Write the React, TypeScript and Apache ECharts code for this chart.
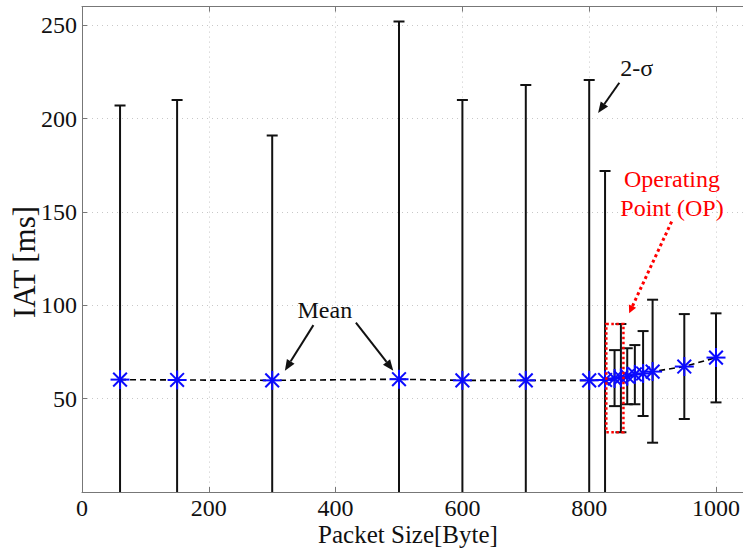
import React, { useEffect, useRef } from "react";
import * as echarts from "echarts";

// Data
const packetSizes = [60, 150, 300, 500, 600, 700, 800, 825, 840, 850, 860, 872, 885, 900, 950, 1000];
const meanIAT = [60.2, 60, 59.8, 60.4, 59.8, 59.8, 59.8, 60, 60.8, 61.2, 62, 63, 63.5, 64.5, 67.2, 72];
const upperIAT = [207, 210, 191, 252, 210, 218, 220.7, 172, 76, 90, 77, 78.7, 86.2, 103, 95.3, 95.7];
const lowerIAT = [-87, -90, -71, -131, -90, -98, -101, -52, 46, 32, 47, 47, 40.7, 26.4, 39.1, 48];

const xTicks = [0, 200, 400, 600, 800, 1000];
const yTicks = [50, 100, 150, 200, 250];

const xAxisTitle = "Packet Size[Byte]";
const yAxisTitle = "IAT [ms]";

// Annotation anchors in data coordinates
const meanLabel = { text: "Mean", at: [383, 97.5] };
const meanArrows = [
  { from: [365, 89.4], to: [320, 65] },
  { from: [432, 90.7], to: [491, 65] },
];
const sigmaLabel = { text: "2-σ", at: [875, 227] };
const sigmaArrow = { from: [847.5, 219.2], to: [814, 203] };
const opLabelLines = [
  { text: "Operating", at: [930.6, 167.5] },
  { text: "Point (OP)", at: [930.6, 152] },
];
const opArrow = { from: [930, 144.8], to: [863, 95.7] };
const opBox = { x0: 827, x1: 854, y0: 32, y1: 90 };

const FONT = "'Liberation Serif', 'Times New Roman', serif";

export default function App() {
  const ref = useRef<HTMLDivElement>(null);

  useEffect(() => {
    if (!ref.current) return;
    const chart = echarts.init(ref.current, null, { renderer: "svg" });

    const barData = packetSizes.map((x, i) => [x, lowerIAT[i], upperIAT[i]]);
    const meanData = packetSizes.map((x, i) => [x, meanIAT[i]]);

    chart.setOption({
      animation: false,
      backgroundColor: "#ffffff",
      grid: {
        left: 82,
        right: -4.7,
        top: 6.6,
        bottom: 56,
        show: false,
        containLabel: false,
        outerBoundsMode: "none",
      },
      xAxis: [
        {
          type: "value",
          min: 0,
          max: 1050,
          interval: 200,
          position: "bottom",
          axisLine: { show: true, lineStyle: { color: "#777", width: 1 } },
          axisTick: { show: true, inside: true, length: 5, lineStyle: { color: "#777" } },
          axisLabel: {
            fontFamily: FONT,
            fontSize: 24,
            lineHeight: 24,
            color: "#111",
            margin: 4,
            formatter: (v: number) => (xTicks.includes(v) ? String(v) : ""),
          },
          splitLine: { show: true, lineStyle: { type: [1, 4], color: "#c8c8c8", width: 1 } },
        },
        {
          type: "value",
          min: 0,
          max: 1050,
          interval: 200,
          position: "top",
          axisLine: { show: true, lineStyle: { color: "#777", width: 1 } },
          axisTick: { show: true, inside: true, length: 5, lineStyle: { color: "#777" } },
          axisLabel: { show: false },
          splitLine: { show: false },
        },
      ],
      yAxis: [
        {
          type: "value",
          min: 0,
          max: 260,
          interval: 50,
          axisLine: { show: true, lineStyle: { color: "#777", width: 1 } },
          axisTick: { show: true, inside: true, length: 5, lineStyle: { color: "#777" } },
          axisLabel: {
            fontFamily: FONT,
            fontSize: 24,
            color: "#111",
            margin: 5,
            formatter: (v: number) => (yTicks.includes(v) ? String(v) : ""),
          },
          splitLine: { show: true, lineStyle: { type: [1, 4], color: "#c8c8c8", width: 1 } },
        },
      ],
      series: [
        {
          type: "custom",
          name: "2-sigma",
          clip: true,
          z: 2,
          data: barData,
          encode: { x: 0, y: [1, 2] },
          renderItem: (_params: any, api: any) => {
            const x = api.value(0);
            const pLo = api.coord([x, api.value(1)]);
            const pHi = api.coord([x, api.value(2)]);
            const w = 5.5;
            const st = { stroke: "#111", lineWidth: 2 };
            return {
              type: "group",
              children: [
                { type: "line", shape: { x1: pLo[0], y1: pLo[1], x2: pHi[0], y2: pHi[1] }, style: st },
                { type: "line", shape: { x1: pHi[0] - w, y1: pHi[1], x2: pHi[0] + w, y2: pHi[1] }, style: st },
                { type: "line", shape: { x1: pLo[0] - w, y1: pLo[1], x2: pLo[0] + w, y2: pLo[1] }, style: st },
              ],
            };
          },
        },
        {
          type: "line",
          name: "Mean",
          data: meanData,
          z: 3,
          showSymbol: false,
          symbol: "none",
          lineStyle: { color: "#000", width: 1.6, type: [6, 4] },
        },
        {
          type: "custom",
          name: "Mean markers",
          z: 4,
          data: meanData,
          encode: { x: 0, y: 1 },
          renderItem: (_params: any, api: any) => {
            const p = api.coord([api.value(0), api.value(1)]);
            const r = 9.5;
            const d = r * 0.72;
            const st = { stroke: "#0a0aff", lineWidth: 2 };
            return {
              type: "group",
              children: [
                { type: "line", shape: { x1: p[0] - r, y1: p[1], x2: p[0] + r, y2: p[1] }, style: st },
                { type: "line", shape: { x1: p[0], y1: p[1] - r, x2: p[0], y2: p[1] + r }, style: st },
                { type: "line", shape: { x1: p[0] - d, y1: p[1] - d, x2: p[0] + d, y2: p[1] + d }, style: st },
                { type: "line", shape: { x1: p[0] - d, y1: p[1] + d, x2: p[0] + d, y2: p[1] - d }, style: st },
              ],
            };
          },
        },
      ],
    });

    const px = (pt: number[]) => chart.convertToPixel({ xAxisIndex: 0, yAxisIndex: 0 }, pt) as number[];

    const arrow = (from: number[], to: number[], color: string, width: number, dash: any, headLen: number, headW: number) => {
      const a = px(from);
      const b = px(to);
      const dx = b[0] - a[0];
      const dy = b[1] - a[1];
      const len = Math.sqrt(dx * dx + dy * dy);
      const ux = dx / len;
      const uy = dy / len;
      const bx = b[0] - ux * headLen;
      const by = b[1] - uy * headLen;
      return [
        {
          type: "line",
          shape: { x1: a[0], y1: a[1], x2: bx, y2: by },
          style: { stroke: color, lineWidth: width, lineDash: dash },
          z: 10,
        },
        {
          type: "polygon",
          shape: {
            points: [
              [b[0], b[1]],
              [bx - uy * headW, by + ux * headW],
              [bx + uy * headW, by - ux * headW],
            ],
          },
          style: { fill: color },
          z: 10,
        },
      ];
    };

    const text = (t: string, at: number[], color: string, size: number) => {
      const p = px(at);
      return {
        type: "text",
        x: p[0],
        y: p[1],
        z: 10,
        style: {
          text: t,
          fill: color,
          font: `${size}px ${FONT}`,
          align: "center",
          verticalAlign: "middle",
        },
      };
    };

    const b0 = px([opBox.x0, opBox.y1]);
    const b1 = px([opBox.x1, opBox.y0]);

    const graphics: any[] = [
      // axis titles
      {
        type: "text",
        x: 408,
        y: 534,
        z: 10,
        style: {
          text: xAxisTitle,
          fill: "#111",
          font: `25px ${FONT}`,
          lineHeight: 25,
          align: "center",
          verticalAlign: "middle",
        },
      },
      {
        type: "text",
        x: 24,
        y: 262,
        rotation: Math.PI / 2,
        z: 10,
        style: { text: yAxisTitle, fill: "#111", font: `31px ${FONT}`, align: "center", verticalAlign: "middle" },
      },
      text(meanLabel.text, meanLabel.at, "#111", 24),
      ...meanArrows.flatMap((a) => arrow(a.from, a.to, "#111", 2, null, 11, 4.5)),
      text(sigmaLabel.text, sigmaLabel.at, "#111", 24),
      ...arrow(sigmaArrow.from, sigmaArrow.to, "#111", 2, null, 11, 4.5),
      ...opLabelLines.map((l) => text(l.text, l.at, "#ff0000", 24)),
      ...arrow(opArrow.from, opArrow.to, "#ff0000", 3, [3, 3], 8, 4),
      {
        type: "rect",
        z: 10,
        shape: { x: b0[0], y: b0[1], width: b1[0] - b0[0], height: b1[1] - b0[1] },
        style: { fill: "none", stroke: "#ff0000", lineWidth: 2.5, lineDash: [2.5, 2.5] },
      },
    ];

    chart.setOption({ graphic: graphics });

    return () => chart.dispose();
  }, []);

  return (
    <div
      ref={ref}
      style={{ position: "absolute", left: 0, top: 0, width: 743, height: 548, background: "#fff" }}
    />
  );
}
